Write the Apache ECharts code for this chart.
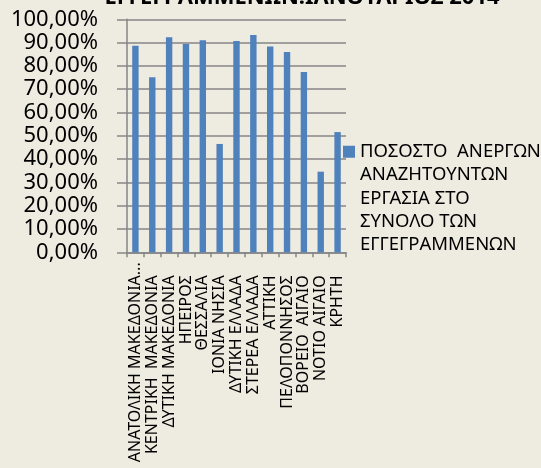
<!DOCTYPE html>
<html>
<head>
<meta charset="utf-8">
<script src="https://cdn.jsdelivr.net/npm/echarts@6/dist/echarts.min.js"></script>
<style>
  html, body { margin: 0; padding: 0; background: #EEECE1; }
  #chart { width: 541px; height: 468px; }
</style>
</head>
<body>
<div id="chart"></div>
<script>
var regions = [
  'ΑΝΑΤΟΛΙΚΗ ΜΑΚΕΔΟΝΙΑ...', 'ΚΕΝΤΡΙΚΗ  ΜΑΚΕΔΟΝΙΑ', 'ΔΥΤΙΚΗ ΜΑΚΕΔΟΝΙΑ', 'ΗΠΕΙΡΟΣ',
  'ΘΕΣΣΑΛΙΑ', 'ΙΟΝΙΑ ΝΗΣΙΑ', 'ΔΥΤΙΚΗ ΕΛΛΑΔΑ', 'ΣΤΕΡΕΑ ΕΛΛΑΔΑ', 'ΑΤΤΙΚΗ',
  'ΠΕΛΟΠΟΝΝΗΣΟΣ', 'ΒΟΡΕΙΟ  ΑΙΓΑΙΟ', 'ΝΟΤΙΟ ΑΙΓΑΙΟ', 'ΚΡΗΤΗ'
];
// % of unemployed looking for work, of all registered
var percentSeeking = [88.6, 75.1, 92.3, 89.4, 91.0, 46.5, 90.7, 93.3, 88.3, 86.0, 77.4, 34.6, 51.6];
var seriesName = 'ΠΟΣΟΣΤΟ  ΑΝΕΡΓΩΝ ΑΝΑΖΗΤΟΥΝΤΩΝ ΕΡΓΑΣΙΑ ΣΤΟ ΣΥΝΟΛΟ ΤΩΝ ΕΓΓΕΓΡΑΜΜΕΝΩΝ';
var legendLines = ['ΠΟΣΟΣΤΟ  ΑΝΕΡΓΩΝ', 'ΑΝΑΖΗΤΟΥΝΤΩΝ', 'ΕΡΓΑΣΙΑ ΣΤΟ', 'ΣΥΝΟΛΟ ΤΩΝ', 'ΕΓΓΕΓΡΑΜΜΕΝΩΝ'];
var chartTitle = 'ΕΓΓΕΓΡΑΜΜΕΝΩΝ:ΙΑΝΟΥΑΡΙΟΣ 2014';

var font = 'Noto Sans';
var gridColor = '#868686';

var catData = regions.map(function (r, i) {
  // first label is truncated and sits closer to the axis
  return i === 0 ? { value: r, textStyle: { padding: [0, 0, 0, 0] } } : r;
});

// square at the top of a tall icon box so it lines up with the first legend line
var legendIcon = 'path://M0,0L12,0L12,12L0,12Z M0,105 L0.01,105 Z';

var myChart = echarts.init(document.getElementById('chart'));
var option = {
  backgroundColor: '#EEECE1',
  animation: false,
  title: {
    text: chartTitle,
    left: 297,
    textAlign: 'center',
    top: -18,
    textStyle: { fontFamily: font, fontWeight: 'bold', fontSize: 22, color: '#000' }
  },
  legend: {
    orient: 'vertical',
    left: 343,
    top: 140,
    padding: 0,
    itemWidth: 12,
    itemHeight: 105,
    itemGap: 4,
    icon: legendIcon,
    formatter: function () { return legendLines.join('\n'); },
    textStyle: { fontFamily: font, fontSize: 18.5, color: '#000', lineHeight: 23.3 }
  },
  grid: { left: 127, right: 195, top: 19.3, bottom: 215.7 },
  xAxis: {
    type: 'category',
    data: catData,
    axisLine: { lineStyle: { color: gridColor, width: 1.5 } },
    axisTick: { show: true, length: 5, lineStyle: { color: gridColor, width: 1.5 } },
    axisLabel: {
      interval: 0, rotate: 90, margin: 10, padding: [0, 13, 0, 0],
      fontFamily: font, fontSize: 16, color: '#000'
    }
  },
  yAxis: {
    type: 'value',
    min: 0, max: 100, interval: 10,
    axisLine: { show: true, lineStyle: { color: gridColor, width: 1.5 } },
    axisTick: { show: true, length: 10, lineStyle: { color: gridColor, width: 1.5 } },
    splitLine: { lineStyle: { color: gridColor, width: 1.5 } },
    axisLabel: {
      margin: 29, fontFamily: font, fontSize: 22, color: '#000',
      formatter: function (v) { return v.toFixed(2).replace('.', ',') + '%'; }
    }
  },
  series: [{
    name: seriesName,
    type: 'bar',
    barWidth: '38%',
    itemStyle: { color: '#4F81BD' },
    data: percentSeeking
  }]
};
myChart.setOption(option);
</script>
</body>
</html>
